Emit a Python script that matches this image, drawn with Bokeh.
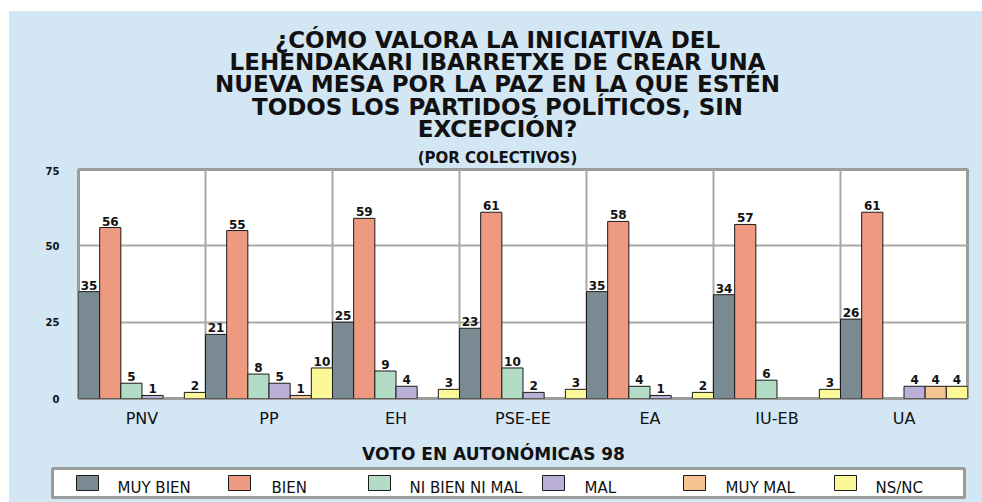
from bokeh.plotting import figure
from bokeh.models import FactorRange, Range1d, FixedTicker, ColumnDataSource, Label, Spacer
from bokeh.transform import dodge
from bokeh.layouts import column, row
from bokeh.core.properties import value
from bokeh.embed import file_html
from bokeh.resources import INLINE

# ---------------- data ----------------
categories = ["PNV", "PP", "EH", "PSE-EE", "EA", "IU-EB", "UA"]
series_names = ["MUY BIEN", "BIEN", "NI BIEN NI MAL", "MAL", "MUY MAL", "NS/NC"]
muy_bien = [35, 21, 25, 23, 35, 34, 26]
bien = [56, 55, 59, 61, 58, 57, 61]
ni_bien_ni_mal = [5, 8, 9, 10, 4, 6, 0]
mal = [1, 5, 4, 2, 1, 0, 4]
muy_mal = [0, 1, 0, 0, 0, 0, 4]
ns_nc = [2, 10, 3, 3, 2, 3, 4]
y_ticks = [0, 25, 50, 75]

title_lines = [
    "¿CÓMO VALORA LA INICIATIVA DEL",
    "LEHENDAKARI IBARRETXE DE CREAR UNA",
    "NUEVA MESA POR LA PAZ EN LA QUE ESTÉN",
    "TODOS LOS PARTIDOS POLÍTICOS, SIN",
    "EXCEPCIÓN?",
]
subtitle = "(POR COLECTIVOS)"
x_title = "VOTO EN AUTONÓMICAS 98"

# ---------------- style ----------------
series = [muy_bien, bien, ni_bien_ni_mal, mal, muy_mal, ns_nc]
colors = ["#7a8a93", "#ee9a80", "#b2dcc5", "#b9afd7", "#f5c492", "#fbf898"]
BG = "#d3e6f4"
GRID = "#a8a8a8"
FRAME = "#9c9c9c"
W = 973


def blank_figure(h):
    f = figure(width=W, height=h, x_range=Range1d(0, W), y_range=Range1d(0, h),
               x_axis_location=None, y_axis_location=None, output_backend="svg",
               toolbar_location=None, min_border=0,
               min_border_left=0, min_border_right=0, min_border_top=0, min_border_bottom=0)
    f.frame_align = False
    f.title.visible = False
    f.background_fill_color = BG
    f.border_fill_color = BG
    f.outline_line_color = None
    for g in f.grid:
        g.visible = False
    return f


# ---------------- header ----------------
H0 = 155
head = blank_figure(H0)
line_y = [127, 104.5, 82.5, 60, 38]
for txt, yy in zip(title_lines, line_y):
    head.add_layout(Label(x=488, y=yy, text=txt, text_align="center", text_baseline="alphabetic",
                          text_font="DejaVu Sans", text_font_style="bold", text_font_size="23px",
                          text_color="#111111"))
head.add_layout(Label(x=488, y=9, text=subtitle, text_align="center", text_baseline="alphabetic",
                      text_font="DejaVu Sans", text_font_style="bold", text_font_size="15px",
                      text_color="#111111"))

# ---------------- chart ----------------
H1 = 264
p = figure(width=W, height=H1, x_range=FactorRange(factors=categories, range_padding=0),
           y_range=Range1d(0, 75), output_backend="svg", toolbar_location=None,
           min_border_left=69, min_border_right=15, min_border_top=3, min_border_bottom=24)
p.frame_align = False
p.title.visible = False
p.background_fill_color = "white"
p.border_fill_color = BG
p.outline_line_color = FRAME
p.outline_line_width = 3

for k, (vals, col) in enumerate(zip(series, colors)):
    xs = [c for c, v in zip(categories, vals) if v > 0]
    ys = [v for v in vals if v > 0]
    src = ColumnDataSource(dict(cat=xs, val=ys, lbl=[str(v) for v in ys]))
    off = (k - 2.5) / 6.0
    p.vbar(x=dodge("cat", off, range=p.x_range), top="val", width=1 / 6.0, source=src,
           fill_color=col, line_color="#1a1a1a", line_width=1)
    p.text(x=dodge("cat", off, range=p.x_range), y="val", text="lbl", source=src,
           text_align="center", text_baseline="bottom", y_offset=-2,
           text_font=value("DejaVu Sans"), text_font_style="bold", text_font_size="12px",
           text_color="#111111")

p.xgrid.ticker = FixedTicker(ticks=[1, 2, 3, 4, 5, 6])
p.xgrid.grid_line_color = GRID
p.xgrid.grid_line_width = 2
p.ygrid.ticker = FixedTicker(ticks=[25, 50])
p.ygrid.grid_line_color = GRID
p.ygrid.grid_line_width = 2

p.xaxis.axis_line_color = None
p.xaxis.major_tick_line_color = None
p.xaxis.minor_tick_line_color = None
p.xaxis.major_label_standoff = 4
p.xaxis.major_label_text_font = "DejaVu Sans"
p.xaxis.major_label_text_font_size = "16px"
p.xaxis.major_label_text_color = "#111111"

p.yaxis.ticker = FixedTicker(ticks=y_ticks)
p.yaxis.axis_line_color = None
p.yaxis.major_tick_line_color = None
p.yaxis.minor_tick_line_color = None
p.yaxis.major_label_standoff = 13
p.yaxis.major_label_text_font = "DejaVu Sans"
p.yaxis.major_label_text_font_style = "bold"
p.yaxis.major_label_text_font_size = "10px"
p.yaxis.major_label_text_color = "#111111"

# ---------------- footer: axis title + legend ----------------
H2 = 72
foot = blank_figure(H2)
foot.add_layout(Label(x=484, y=49, text=x_title, text_align="center", text_baseline="alphabetic",
                      text_font="DejaVu Sans", text_font_style="bold", text_font_size="17px",
                      text_color="#111111"))
foot.quad(left=43, right=955, bottom=5, top=34, fill_color="white", line_color=FRAME, line_width=3)
sw_x = [67, 219, 359, 533, 674, 825]
tx_x = [108, 262, 400, 575, 716, 866]
foot.quad(left=sw_x, right=[x + 22 for x in sw_x], bottom=12, top=27,
          fill_color=colors, line_color="#1a1a1a", line_width=1)
foot.text(x=tx_x, y=[15] * 6, text=series_names, text_align="left", text_baseline="alphabetic",
          text_font=value("DejaVu Sans"), text_font_size="15px", text_color="#111111")

inner = column(head, p, foot, spacing=0, styles={"background-color": BG})
layout = column(Spacer(width=982, height=11),
                row(Spacer(width=9, height=H0 + H1 + H2), inner, spacing=0),
                spacing=0)
open("out.html", "w").write(file_html(layout, INLINE))
